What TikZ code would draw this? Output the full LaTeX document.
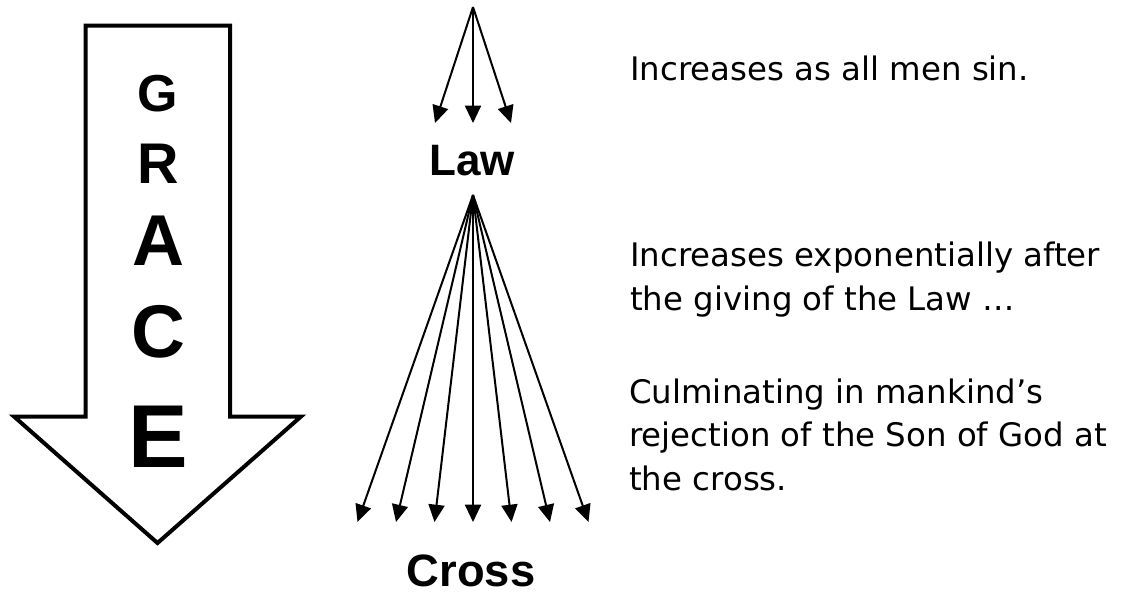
\documentclass[tikz,border=0pt]{standalone}
\usepackage{fontspec}
\setmainfont{DejaVu Sans}
\newfontfamily\arialfont{Liberation Sans}
\usetikzlibrary{arrows.meta}

\begin{document}
\begin{tikzpicture}[x=0.75pt, y=-0.75pt,
          fan/.style={black, line width=1.5pt, -{Triangle[length=13pt,width=12pt]}},
          bigarrow/.style={black, line width=3pt, line join=miter, fill=white},
          letter/.style={font=\arialfont\bfseries\fontsize{#1}{#1}\selectfont, anchor=base, inner sep=0pt},
          title/.style={font=\arialfont\bfseries\fontsize{#1}{#1}\selectfont, anchor=base, inner sep=0pt},
          note/.style={font=\fontsize{24.3}{32.6}\selectfont, anchor=base west, align=left, inner sep=0pt}
        ]
          \useasboundingbox (0,0) rectangle (1123,594);

          % Pfeil
          \draw[bigarrow] (85.5,25.5) -- (230,25.5) -- (230,416.5) -- (301,416.5)
            -- (157.5,543) -- (14,416.5) -- (85.5,416.5) -- cycle;

          % Buchstaben
          \node[letter=39] (g) at (158,111) {G};
          \node[letter=43] (r) at (158,183) {R};
          \node[letter=54] (a) at (158,265) {A};
          \node[letter=56] (c) at (158,357) {C};
          \node[letter=67] (e) at (158,467) {E};

          % oberer Faecher
          \coordinate (top) at (473,7);
          \foreach \dx [count=\i] in {-38,0,38} {
            \coordinate (s\i) at (473+\dx,123);
            \draw[fan] (top) -- (s\i);
          }
          \node[title=33] (law) at (472,175) {Law};

          % unterer Faecher
          \coordinate (low) at (473,195);
          \foreach \i in {-3,...,3} {
            \coordinate (t\i) at (473+\i*38.5,522);
            \draw[fan] (low) -- (t\i);
          }
          \node[title=34] (cross) at (471,586) {Cross};

          % Texte
          \node[note] (sin) at (630,80) {Increases as all men sin.};
          \node[note] (expo) at (630,310) {Increases exponentially after\\the giving of the Law …};
          \node[note] (culm) at (629,490) {Culminating in mankind’s\\rejection of the Son of God at\\the cross.};
        \end{tikzpicture}
\end{document}
